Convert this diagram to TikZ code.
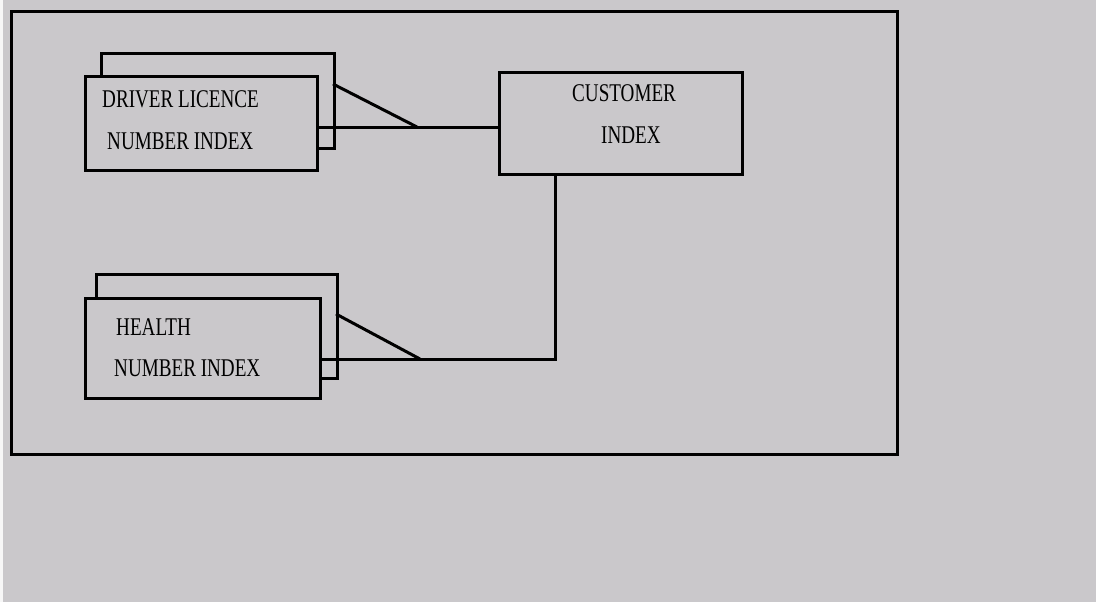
\documentclass[tikz,border=0pt]{standalone}
\usepackage{fontspec}
\setmainfont{Liberation Serif}
\definecolor{bg}{HTML}{CAC8CB}
\tikzset{
  ln/.style={line width=3pt},
  box/.style={draw, line width=3pt, fill=bg, inner sep=0pt, anchor=north west},
  lbl/.style={inner sep=0pt, anchor=base west, font=\fontsize{25.5}{26}\selectfont},
}
\newcommand{\cond}[1]{\scalebox{0.75}[1]{#1}}
\begin{document}
\begin{tikzpicture}[x=1pt,y=-1pt]
\fill[bg] (0,0) rectangle (1096,602);
\useasboundingbox (0,0) rectangle (1096,602);
\fill[white!85!bg] (0,0) rectangle (3,602);
% outer frame
\node[box, fill=none, minimum width=886pt, minimum height=443pt] (frame) at (10,10) {};
% driver licence: back and front
\node[box, minimum width=233pt, minimum height=95pt] (dlback) at (100,52) {};
\node[box, minimum width=232pt, minimum height=94pt] (dl) at (84,75) {};
% health: back and front
\node[box, minimum width=241pt, minimum height=104pt] (hback) at (95,273) {};
\node[box, minimum width=235pt, minimum height=100pt] (h) at (84,297) {};
% customer
\node[box, minimum width=243pt, minimum height=102pt] (cust) at (498,71) {};
% labels
\node[lbl] (t1) at (102,107) {\cond{DRIVER LICENCE}};
\node[lbl] (t2) at (107,149) {\cond{NUMBER INDEX}};
\node[lbl] (t3) at (116,335) {\cond{HEALTH}};
\node[lbl] (t4) at (114,376) {\cond{NUMBER INDEX}};
\node[lbl] (t5) at (572,102) {\cond{CUSTOMER}};
\node[lbl] (t6) at (601,143) {\cond{INDEX}};
% connectors
\coordinate (j1) at (417,127);
\coordinate (c1) at (333,84);
\draw[ln] (dl.east |- j1) -- (cust.west |- j1);
\draw[ln] (c1) -- (j1);
\coordinate (j2) at (420,359);
\coordinate (c2) at (336,314);
\coordinate (k) at (555,359);
\draw[ln] (cust.south -| k) -- (k) -- (h.east |- k);
\draw[ln] (c2) -- (j2);
\end{tikzpicture}
\end{document}
